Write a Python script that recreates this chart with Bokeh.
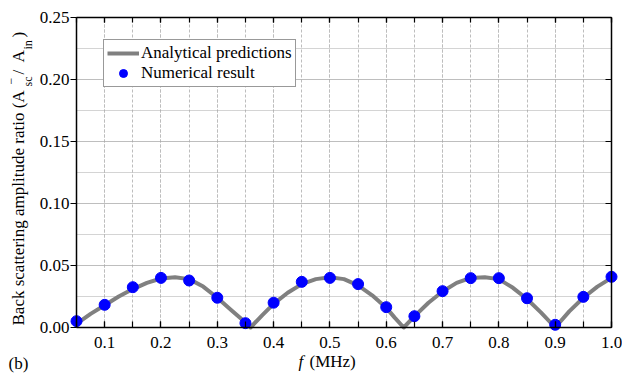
import math
from bokeh.plotting import figure
from bokeh.models import (Range1d, LinearAxis, SingleIntervalTicker, PrintfTickFormatter,
                          Legend, LegendItem, Label)
from bokeh.embed import file_html
from bokeh.resources import INLINE

# ---- data ----
freq_num = [0.05, 0.10, 0.15, 0.20, 0.25, 0.30, 0.35, 0.40, 0.45, 0.50,
            0.55, 0.60, 0.65, 0.70, 0.75, 0.80, 0.85, 0.90, 0.95, 1.00]
ratio_num = [0.0051, 0.0183, 0.0325, 0.0400, 0.0379, 0.0240, 0.0035, 0.0200, 0.0368, 0.0400,
             0.0350, 0.0164, 0.0091, 0.0293, 0.0398, 0.0398, 0.0236, 0.0022, 0.0247, 0.0409]

freq_ana = [0.05, 0.075, 0.10, 0.125, 0.15, 0.175, 0.20, 0.225, 0.25, 0.275, 0.30, 0.325, 0.345,
            0.359, 0.38, 0.40, 0.425, 0.45, 0.475, 0.50, 0.525, 0.55, 0.575, 0.60, 0.615, 0.631,
            0.65, 0.675, 0.70, 0.725, 0.75, 0.775, 0.80, 0.825, 0.85, 0.875, 0.90, 0.925, 0.95,
            0.975, 1.00]
ratio_ana = [0.003, 0.011, 0.018, 0.025, 0.031, 0.036, 0.0395, 0.0405, 0.039, 0.033, 0.024, 0.014,
             0.006, 0.0, 0.010, 0.019, 0.028, 0.035, 0.039, 0.0405, 0.039, 0.034, 0.026, 0.016,
             0.008, 0.0, 0.009, 0.020, 0.029, 0.036, 0.040, 0.0405, 0.039, 0.032, 0.023, 0.012,
             0.0, 0.013, 0.024, 0.033, 0.040]

x_ticks_label_fmt = "%.1f"
y_ticks_label_fmt = "%.2f"

FONT = "Liberation Serif"
FS = "17px"

W, H = 622, 374
# plot box in canvas pixels
BL, BR, BT, BB = 76, 11, 17, 47
X0, X1 = 0.05, 1.0
Y0, Y1 = 0.0, 0.25
fw = W - BL - BR
fh = H - BT - BB
sx = (X1 - X0) / fw
sy = (Y1 - Y0) / fh

# the frame covers the whole canvas; axes are fixed at the plot-box edges
p = figure(width=W, height=H, output_backend="svg", toolbar_location=None,
           x_range=Range1d(X0 - BL * sx, X1 + BR * sx),
           y_range=Range1d(Y0 - BB * sy, Y1 + BT * sy),
           min_border=0, x_axis_location=None, y_axis_location=None)
p.background_fill_color = "white"
p.border_fill_color = "white"
p.outline_line_color = None

def lab(text, px, py, size=FS, angle=0.0, style="normal"):
    p.add_layout(Label(x=px, y=H - py, x_units="screen", y_units="screen",
                       text=text, angle=angle,
                       text_font=FONT, text_font_size=size, text_font_style=style,
                       text_color="black", text_align="left", text_baseline="alphabetic"))

# grids
xt = SingleIntervalTicker(interval=0.1, num_minor_ticks=2)
yt = SingleIntervalTicker(interval=0.05, num_minor_ticks=2)
p.xgrid.ticker = xt
p.ygrid.ticker = yt
p.xgrid.bounds = (X0, X1)
p.xgrid.cross_bounds = (Y0, Y1)
p.ygrid.bounds = (Y0, Y1)
p.ygrid.cross_bounds = (X0, X1)
p.xgrid.grid_line_color = "#bdbdbd"
p.xgrid.grid_line_dash = "3 2"
p.xgrid.minor_grid_line_color = "#bdbdbd"
p.xgrid.minor_grid_line_dash = "3 2"
p.ygrid.grid_line_color = "#a8a8a8"
p.ygrid.grid_line_dash = "1 1"
p.ygrid.minor_grid_line_color = "#a8a8a8"
p.ygrid.minor_grid_line_dash = "1 1"

# axes
bottom = LinearAxis(ticker=xt, formatter=PrintfTickFormatter(format=x_ticks_label_fmt),
                    fixed_location=Y0, bounds=(X0, X1))
left = LinearAxis(ticker=yt, formatter=PrintfTickFormatter(format=y_ticks_label_fmt),
                  fixed_location=X0, bounds=(Y0, Y1))
top = LinearAxis(ticker=SingleIntervalTicker(interval=0.1, num_minor_ticks=2),
                 fixed_location=Y1, bounds=(X0, X1))
right = LinearAxis(ticker=SingleIntervalTicker(interval=0.05, num_minor_ticks=2),
                   fixed_location=X1, bounds=(Y0, Y1))

for ax in (bottom, left, top, right):
    ax.axis_line_color = "black"
    ax.axis_line_width = 1.5
    ax.major_tick_line_color = "black"
    ax.minor_tick_line_color = "black"
    ax.major_tick_line_width = 1.2
    ax.minor_tick_line_width = 1.2
    ax.major_label_text_font = FONT
    ax.major_label_text_font_size = FS
    ax.major_label_text_color = "black"

bottom.major_tick_in = 6
bottom.major_tick_out = 0
bottom.minor_tick_in = 6
bottom.minor_tick_out = 0
bottom.major_label_standoff = 9

left.major_tick_in = 0
left.major_tick_out = 6
left.minor_tick_in = 0
left.minor_tick_out = 0
left.major_label_standoff = 1

for ax in (top, right):
    ax.major_label_text_color = None
    ax.major_label_text_font_size = "1px"
    ax.major_label_standoff = 0
    ax.major_tick_out = 0
    ax.minor_tick_out = 0

top.major_tick_in = 5
top.minor_tick_in = 5
right.major_tick_in = 6
right.minor_tick_in = 0

p.add_layout(bottom, "below")
p.add_layout(left, "left")
p.add_layout(top, "above")
p.add_layout(right, "right")

# data
ln = p.line(freq_ana, ratio_ana, line_color="#808080", line_width=4, line_join="round")
sc = p.scatter(freq_num, ratio_num, size=11, fill_color="#0000ff", line_color="#0000ff")

legend = Legend(items=[LegendItem(label="Analytical predictions", renderers=[ln]),
                       LegendItem(label="Numerical result", renderers=[sc])],
                location=(103, H - 87))
legend.label_text_font = FONT
legend.label_text_font_size = FS
legend.label_text_color = "black"
legend.border_line_color = "#333333"
legend.border_line_width = 1
legend.background_fill_alpha = 1
legend.padding = 3
legend.spacing = 0
legend.margin = 0
legend.glyph_width = 32
legend.glyph_height = 20
legend.label_height = 20
legend.label_standoff = 2
p.add_layout(legend, "center")

# axis titles and tag
lab("f", 298, 361, style="italic")
lab("(MHz)", 309, 361)
lab("(b)", 8, 363)
R = math.pi / 2
lab("Back scattering amplitude ratio (A", 18, 325, angle=R)
lab("\u2212", 10, 84, size="12px", angle=R)
lab("sc", 27, 86, size="12px", angle=R)
lab("/", 18, 74, angle=R)
lab("A", 18, 62, angle=R)
lab("in", 27, 49, size="12px", angle=R)
lab(")", 18, 37, angle=R)

open("out.html", "w").write(file_html(p, INLINE))
